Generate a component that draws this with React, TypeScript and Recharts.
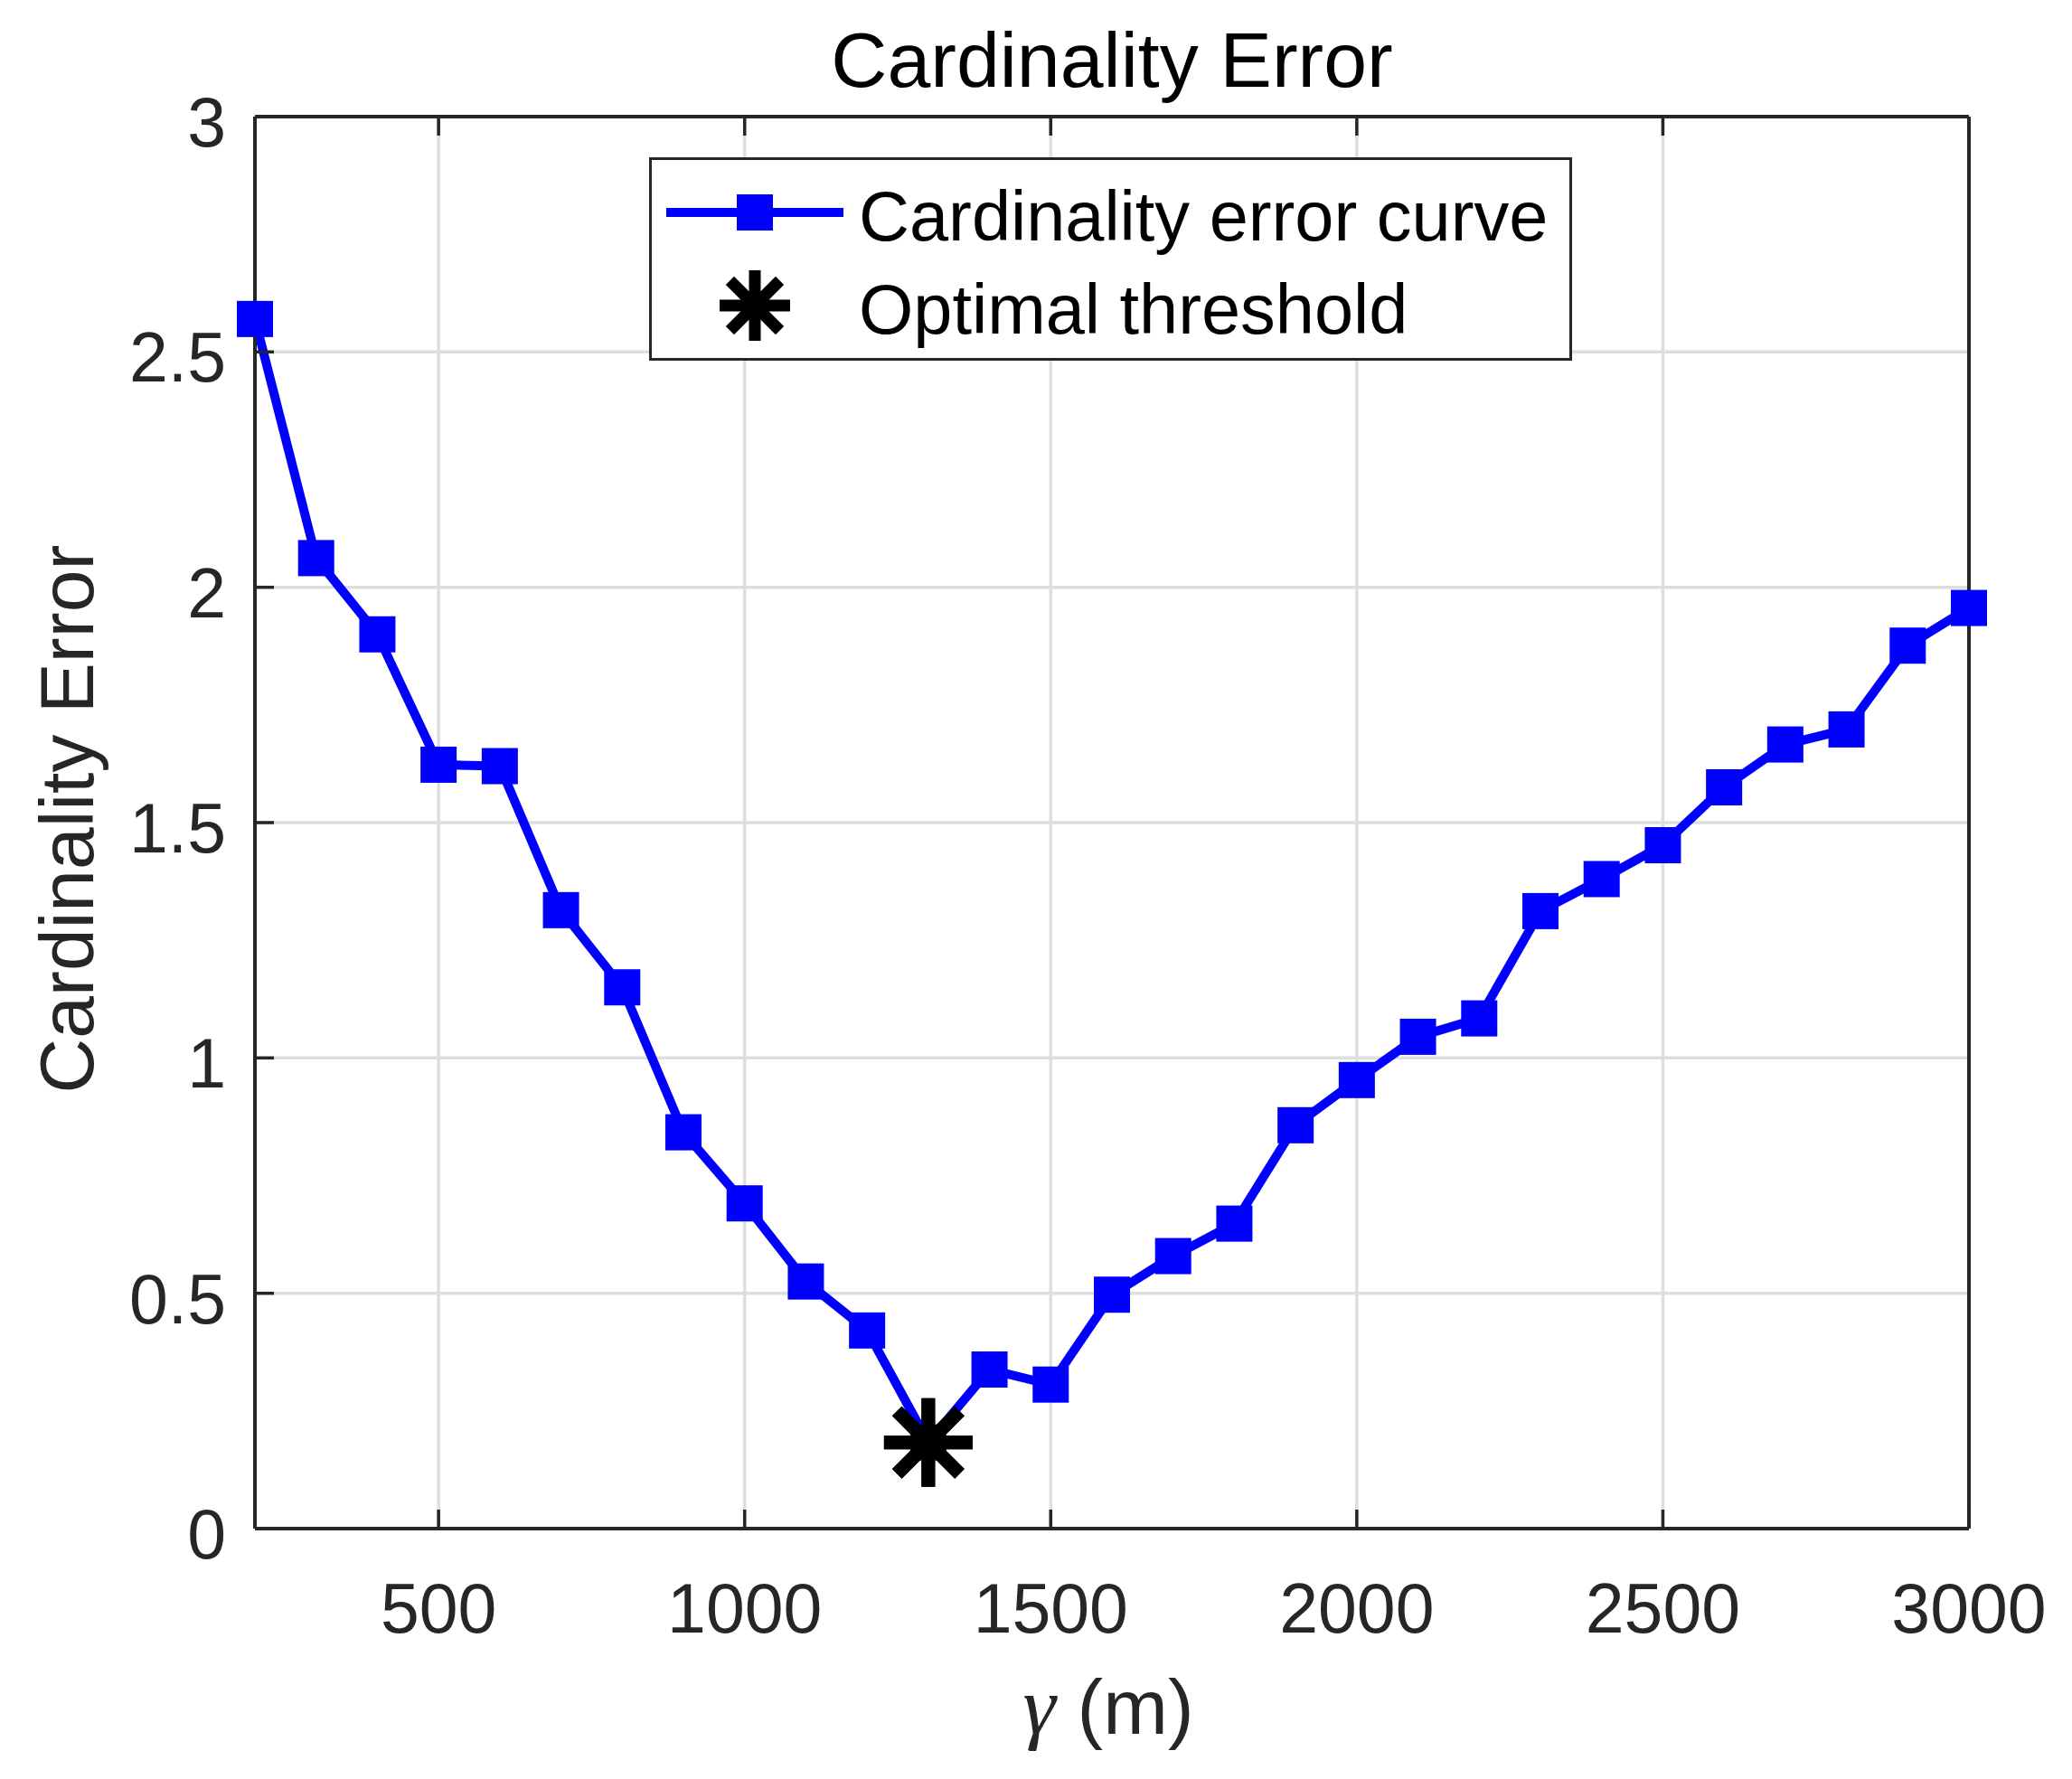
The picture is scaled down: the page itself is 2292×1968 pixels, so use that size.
import {
  ComposedChart,
  Line,
  Scatter,
  XAxis,
  YAxis,
  CartesianGrid,
  Legend,
  Label,
} from "recharts";

// values
const gamma = [
  200, 300, 400, 500, 600, 700, 800, 900, 1000, 1100, 1200, 1300, 1400, 1500,
  1600, 1700, 1800, 1900, 2000, 2100, 2200, 2300, 2400, 2500, 2600, 2700, 2800,
  2900, 3000,
];
const cardError = [
  2.57, 2.062, 1.9, 1.623, 1.62, 1.314, 1.15, 0.842, 0.691, 0.525, 0.421, 0.183,
  0.338, 0.306, 0.497, 0.579, 0.648, 0.857, 0.953, 1.045, 1.084, 1.312, 1.38,
  1.452, 1.575, 1.666, 1.698, 1.876, 1.956,
];
const optimalGamma = [1300];
const optimalError = [0.183];
const xTicks = [500, 1000, 1500, 2000, 2500, 3000];
const yTicks = [0, 0.5, 1, 1.5, 2, 2.5, 3];
const seriesNames = ["Cardinality error curve", "Optimal threshold"];

const data = gamma.map((g, i) => ({ gamma: g, error: cardError[i] }));
const optimal = optimalGamma.map((g, i) => ({ gamma: g, error: optimalError[i] }));

const W = 2292;
const H = 1968;
const AXIS = "#262626";
const BLUE = "#0000ff";
const FONT = '"Liberation Sans", Arial, Helvetica, sans-serif';
const TICK_LEN = 21;
const PLOT_CX = 282 + 1896 / 2;
const PLOT_CY = 129 + 1562 / 2;

const BottomTick = (props: any) => {
  const { x, y, payload } = props;
  return (
    <g>
      <line x1={x} y1={y} x2={x} y2={y - TICK_LEN} stroke={AXIS} strokeWidth={3.5} />
      <text x={x} y={y + 115} textAnchor="middle" fill={AXIS} fontSize={77} fontFamily={FONT}>
        {payload.value}
      </text>
    </g>
  );
};

const TopTick = (props: any) => {
  const { x, y } = props;
  return <line x1={x} y1={y} x2={x} y2={y + TICK_LEN} stroke={AXIS} strokeWidth={3.5} />;
};

const LeftTick = (props: any) => {
  const { x, y, payload } = props;
  return (
    <g>
      <line x1={x} y1={y} x2={x + TICK_LEN} y2={y} stroke={AXIS} strokeWidth={3.5} />
      <text x={x - 32} y={y + 33} textAnchor="end" fill={AXIS} fontSize={77} fontFamily={FONT}>
        {payload.value}
      </text>
    </g>
  );
};

const RightTick = (props: any) => {
  const { x, y } = props;
  return <line x1={x} y1={y} x2={x - TICK_LEN} y2={y} stroke={AXIS} strokeWidth={3.5} />;
};

const Asterisk = ({ cx, cy, r, w }: { cx: number; cy: number; r: number; w: number }) => {
  const d = r / Math.SQRT2;
  return (
    <g stroke="#000" strokeWidth={w}>
      <line x1={cx} y1={cy - r} x2={cx} y2={cy + r} />
      <line x1={cx - r} y1={cy} x2={cx + r} y2={cy} />
      <line x1={cx - d} y1={cy - d} x2={cx + d} y2={cy + d} />
      <line x1={cx - d} y1={cy + d} x2={cx + d} y2={cy - d} />
    </g>
  );
};

// square markers; where the optimal point sits, the asterisk is drawn over it
const SquareDot = (props: any) => {
  const { cx, cy, index, payload } = props;
  if (cx == null || cy == null) return <g key={`sq-${index}`} />;
  const isOpt = payload && optimalGamma.includes(payload.gamma);
  return (
    <g key={`sq-${index}`}>
      <rect x={cx - 20} y={cy - 20} width={40} height={40} fill={BLUE} />
      {isOpt && <Asterisk cx={cx} cy={cy} r={49} w={15} />}
    </g>
  );
};

const StarShape = (props: any) => <Asterisk cx={props.cx} cy={props.cy} r={49} w={15} />;

const LegendBox = () => (
  <svg width={1021} height={225} style={{ display: "block" }}>
    <rect x={1.5} y={1.5} width={1018} height={222} fill="#fff" stroke={AXIS} strokeWidth={3} />
    <line x1={19} y1={61} x2={215} y2={61} stroke={BLUE} strokeWidth={10} />
    <rect x={97} y={41} width={40} height={40} fill={BLUE} />
    <text x={232} y={92} fontSize={77.5} fontFamily={FONT} fill="#000">
      {seriesNames[0]}
    </text>
    <Asterisk cx={117} cy={164} r={39} w={13} />
    <text x={232} y={195} fontSize={77.5} fontFamily={FONT} fill="#000">
      {seriesNames[1]}
    </text>
  </svg>
);

const TitleLabel = () => (
  <text x={PLOT_CX} y={96} textAnchor="middle" fontSize={86} fontFamily={FONT} fill="#000">
    Cardinality Error
  </text>
);

const XLabel = () => (
  <text x={PLOT_CX - 4} y={1918} textAnchor="middle" fontSize={86} fontFamily={FONT} fill={AXIS}>
    <tspan fontFamily='"Liberation Serif", "DejaVu Serif", serif' fontStyle="italic" fontSize={92}>
      γ
    </tspan>
    <tspan> (m)</tspan>
  </text>
);

const YLabel = () => (
  <text
    x={103}
    y={PLOT_CY - 4}
    transform={`rotate(-90 103 ${PLOT_CY - 4})`}
    textAnchor="middle"
    fontSize={84}
    fontFamily={FONT}
    fill={AXIS}
  >
    Cardinality Error
  </text>
);

export default function App() {
  return (
    <div style={{ position: "absolute", left: 0, top: 0, width: W, height: H, background: "#fff" }}>
      <ComposedChart
        width={W}
        height={H}
        data={data}
        margin={{ top: 128, right: 113, bottom: 127, left: 82 }}
      >
        <CartesianGrid
          stroke="#dedede"
          strokeWidth={3.5}
          horizontalValues={yTicks}
          verticalValues={xTicks}
        />
        <XAxis
          dataKey="gamma"
          type="number"
          domain={[200, 3000]}
          ticks={xTicks}
          interval={0}
          height={150}
          tickSize={0}
          tickMargin={0}
          tick={BottomTick}
          axisLine={{ stroke: AXIS, strokeWidth: 4 }}
          tickLine={false}
        >
          <Label content={XLabel} />
        </XAxis>
        <XAxis
          xAxisId="top"
          orientation="top"
          dataKey="gamma"
          type="number"
          domain={[200, 3000]}
          ticks={xTicks}
          interval={0}
          height={1}
          tickSize={0}
          tickMargin={0}
          tick={TopTick}
          axisLine={{ stroke: AXIS, strokeWidth: 4 }}
          tickLine={false}
        >
          <Label content={TitleLabel} />
        </XAxis>
        <YAxis
          type="number"
          domain={[0, 3]}
          ticks={yTicks}
          interval={0}
          width={200}
          tickSize={0}
          tickMargin={0}
          tick={LeftTick}
          axisLine={{ stroke: AXIS, strokeWidth: 4 }}
          tickLine={false}
        >
          <Label content={YLabel} />
        </YAxis>
        <YAxis
          yAxisId="right"
          orientation="right"
          type="number"
          domain={[0, 3]}
          ticks={yTicks}
          interval={0}
          width={1}
          tickSize={0}
          tickMargin={0}
          tick={RightTick}
          axisLine={{ stroke: AXIS, strokeWidth: 4 }}
          tickLine={false}
        />
        <Scatter
          data={optimal}
          dataKey="error"
          name={seriesNames[1]}
          shape={StarShape}
          isAnimationActive={false}
        />
        <Line
          type="linear"
          dataKey="error"
          name={seriesNames[0]}
          stroke={BLUE}
          strokeWidth={10}
          dot={SquareDot}
          activeDot={false}
          isAnimationActive={false}
        />
        <Legend
          layout="horizontal"
          verticalAlign="middle"
          align="center"
          content={LegendBox}
          wrapperStyle={{ left: 718, top: 174, width: 1021, height: 225 }}
        />
      </ComposedChart>
    </div>
  );
}
